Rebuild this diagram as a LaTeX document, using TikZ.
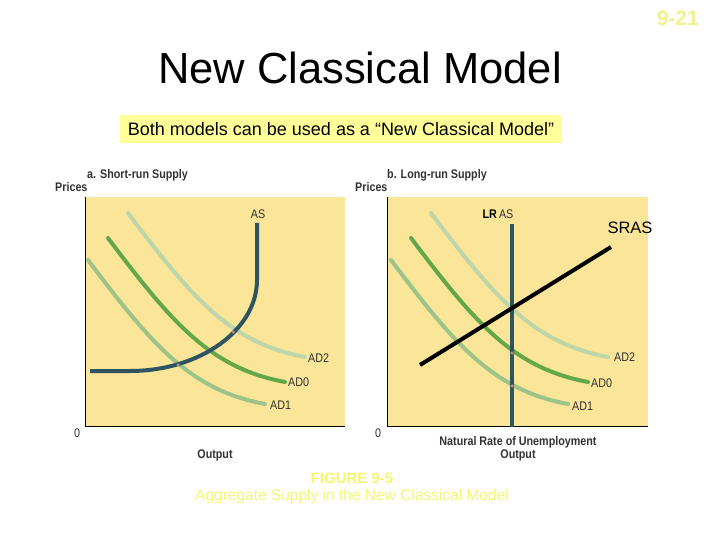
\documentclass[tikz,border=0pt]{standalone}
\usepackage{fontspec}
\setmainfont{Liberation Sans}
\newfontfamily\condfont[FakeStretch=0.86]{Liberation Sans}
\definecolor{panel}{RGB}{250,229,152}
\definecolor{boxy}{RGB}{255,255,153}
\definecolor{paley}{RGB}{240,240,140}
\definecolor{capy}{RGB}{245,245,110}
\definecolor{adtwo}{RGB}{188,214,170}
\definecolor{adzero}{RGB}{98,168,72}
\definecolor{adone}{RGB}{156,196,136}
\definecolor{asc}{RGB}{46,84,97}
\definecolor{lab}{RGB}{50,50,50}
\definecolor{dotc}{RGB}{190,140,130}
\tikzset{
  curve/.style={line width=4pt, line cap=round},
  lbl/.style={font=\condfont\fontsize{12.5}{13}\selectfont, text=lab, inner sep=0pt},
  hdr/.style={font=\condfont\fontsize{12.5}{13}\selectfont\bfseries, text=lab, inner sep=0pt},
  isect/.style={fill=dotc, draw=none, circle, minimum size=3.5pt, inner sep=0pt},
}
\begin{document}
\begin{tikzpicture}[x=1pt,y=-1pt]
\useasboundingbox (0,0) rectangle (720,540);
% page number
\node[font=\fontsize{21}{22}\selectfont\bfseries, text=paley, anchor=east, inner sep=0pt] (pg) at (699,18) {9-21};
% title
\node[font=\fontsize{43.5}{46}\selectfont, anchor=base, inner sep=0pt] (title) at (360,84) {New Classical Model};
% box
\node[fill=boxy, minimum width=442pt, minimum height=28pt, inner sep=0pt, font=\fontsize{18}{20}\selectfont] (note) at (341,129) {Both models can be used as a “New Classical Model”};

% panel a
\fill[panel] (85,197) rectangle (345,426);
\draw[line width=1pt] (85,197) -- (85,426) -- (345,426);
\node[hdr, anchor=west] (ha) at (87,175) {a. Short-run Supply};
\node[hdr, anchor=west] (pa) at (55,187) {Prices};
\node[lbl, anchor=center] (za) at (77,433) {0};
\node[hdr, anchor=center] (oa) at (215,455) {Output};

\draw[curve, adtwo] (128,213) .. controls (192,298) and (230,343) .. (305,357);
\draw[curve, adzero] (108,238) .. controls (172,323) and (210,368) .. (285,382);
\draw[curve, adone] (88,260) .. controls (152,345) and (190,390) .. (265,404);
\draw[curve, asc, line cap=butt] (90,371) -- (130,371) .. controls (200,371) and (257,330) .. (257,280) -- (257,223);
\node[isect] (ia1) at (233,332) {};
\node[isect] (ia2) at (178,365) {};
\node[lbl] (asa) at (258,214) {AS};
\node[lbl, anchor=west] (a2a) at (308,358) {AD2};
\node[lbl, anchor=west] (a0a) at (288,382) {AD0};
\node[lbl, anchor=west] (a1a) at (270,405) {AD1};

% panel b
\fill[panel] (387,197) rectangle (648,426);
\draw[line width=1pt] (387,197) -- (387,426) -- (648,426);
\node[hdr, anchor=west] (hb) at (387,175) {b. Long-run Supply};
\node[hdr, anchor=west] (pb) at (355,187) {Prices};
\node[lbl, anchor=center] (zb) at (378,433) {0};
\node[hdr, anchor=center] (nb) at (518,442) {Natural Rate of Unemployment};
\node[hdr, anchor=center] (ob) at (518,455) {Output};

\draw[curve, adtwo] (431,213) .. controls (495,298) and (533,343) .. (608,357);
\draw[curve, adzero] (411,238) .. controls (475,323) and (513,368) .. (588,382);
\draw[curve, adone] (391,260) .. controls (455,345) and (493,390) .. (568,404);
\coordinate (lrt) at (512,224);
\coordinate (lrb) at (512,427);
\draw[line width=4pt, asc] (lrt) -- (lrb);
\node[isect] (ib1) at (512,308) {};
\node[isect] (ib2) at (512,353) {};
\node[isect] (ib3) at (512,386) {};
\node[inner sep=0pt, font=\condfont\fontsize{12.5}{13}\selectfont] (lras) at (498,214) {\textbf{LR}\,\textcolor{lab}{AS}};
\node[lbl, anchor=west] (a2b) at (614,357) {AD2};
\node[lbl, anchor=west] (a0b) at (591,383) {AD0};
\node[lbl, anchor=west] (a1b) at (572,406) {AD1};

% SRAS
\coordinate (s1) at (420,365);
\coordinate (s2) at (611,247);
\draw[line width=4pt, black] (s1) -- (s2);
\node[font=\fontsize{16.5}{18}\selectfont, inner sep=0pt] (sras) at (630,228) {SRAS};

% caption
\node[font=\fontsize{15}{16}\selectfont\bfseries, text=capy, inner sep=0pt] (fig) at (352,478) {FIGURE 9-5};
\node[font=\fontsize{15.5}{16}\selectfont, text=capy, inner sep=0pt] (cap) at (352,496) {Aggregate Supply in the New Classical Model};
\end{tikzpicture}
\end{document}
